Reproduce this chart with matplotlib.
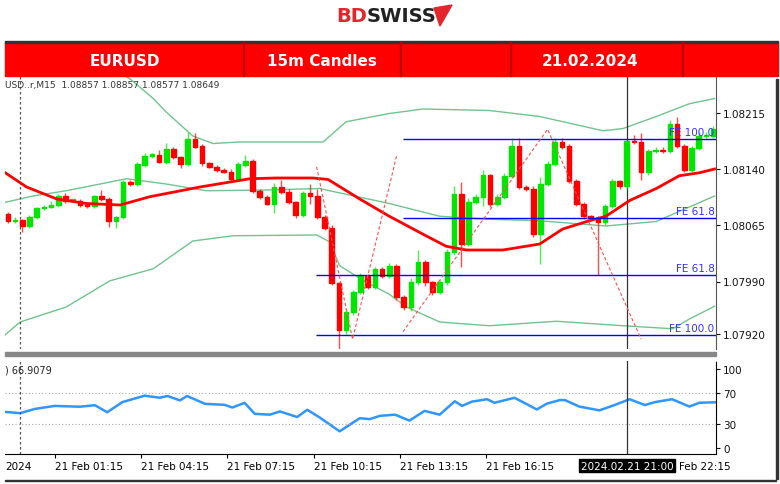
import matplotlib
matplotlib.use("Agg")
import matplotlib.pyplot as plt
from matplotlib.patches import Rectangle, Polygon

# ---------------- data ----------------
closes = [1.08071,1.08072,1.08064,1.08076,1.08088,1.08090,1.08092,1.08104,1.08098,1.08098,
          1.08092,1.08091,1.08104,1.08100,1.08071,1.08076,1.08123,1.08120,1.08146,1.08158,
          1.08159,1.08150,1.08167,1.08156,1.08147,1.08180,1.08170,1.08148,1.08143,1.08139,
          1.08136,1.08127,1.08146,1.08151,1.08111,1.08103,1.08094,1.08116,1.08110,1.08096,
          1.08079,1.08108,1.08104,1.08076,1.08062,1.07988,1.07925,1.07949,1.07976,1.07997,
          1.07983,1.08007,1.07997,1.08011,1.07969,1.07956,1.07989,1.08016,1.07989,1.07976,
          1.07989,1.08029,1.08107,1.08040,1.08096,1.08103,1.08132,1.08094,1.08103,1.08131,
          1.08171,1.08116,1.08114,1.08053,1.08120,1.08147,1.08176,1.08170,1.08124,1.08094,
          1.08077,1.08075,1.08069,1.08091,1.08124,1.08117,1.08178,1.08176,1.08136,1.08164,
          1.08166,1.08164,1.08200,1.08171,1.08139,1.08168,1.08184,1.08184,1.08194]
first_open = 1.08080
upper_wick = [3,4,2,3,2,2,6,3,4,2, 2,3,2,8,3,2,3,2,4,3, 3,6,8,3,2,10,8,3,2,3,
              2,4,3,8,2,3,2,6,9,3, 2,3,12,10,3,3,2,4,3,4, 3,3,3,4,2,3,5,16,3,2,
              3,4,10,16,5,4,7,2,4,4, 10,10,3,3,10,4,6,5,3,3, 2,2,3,3,3,2,2,7,12,3,
              3,4,6,10,2,3,6,5,3]
lower_wick = [3,3,8,3,2,3,2,3,3,2, 3,3,3,2,8,10,3,2,2,3, 3,2,3,3,6,3,2,4,2,3,
              2,3,3,3,3,3,2,12,3,3, 4,3,10,3,3,3,25,5,4,3, 3,3,3,3,3,4,6,4,5,4,
              3,3,3,30,3,3,12,4,3,3, 3,3,3,3,40,3,3,3,3,3, 3,3,70,3,3,3,3,3,10,4,
              3,3,3,3,3,3,3,3,3]

ma_x = [-1,2.6,6.8,10.9,15.6,19.7,26.7,33.6,37.3,42.4,44.5,48.9,53,57.7,60.9,63.7,68.8,73.9,77.1,80.8,83.1,86.4,90.1,93.3,96.1,98.2]
ma_y = [1.08139,1.08116,1.08100,1.08094,1.08092,1.08103,1.08116,1.08127,1.08128,1.08128,1.08126,1.08100,1.08077,
        1.08053,1.08037,1.08032,1.08032,1.08040,1.08060,1.08071,1.08077,1.08098,1.08114,1.08131,1.08135,1.08140]
bb_up_x = [-1,10,17,20.2,22,25.7,28.5,32.2,43.8,47,53,57.7,66.9,73.9,82.7,85.5,90.1,94.7,98.2]
bb_up_y = [1.08340,1.08300,1.08260,1.08234,1.08216,1.08184,1.08174,1.08176,1.08176,1.08203,1.08214,1.08220,
           1.08218,1.08210,1.08191,1.08194,1.08210,1.08227,1.08234]
bb_mid_x = [-1.1,3.5,8.1,16.5,22,27.6,35.9,43.3,45.2,53,60,66.9,73.9,83.1,90.1,98.2]
bb_mid_y = [1.08094,1.08104,1.08111,1.08127,1.08120,1.08111,1.08112,1.08114,1.08110,1.08094,1.08077,1.08073,
            1.08071,1.08064,1.08070,1.08104]
bb_lo_x = [-1.1,1.7,8.1,14.2,20.2,25.7,31.3,42.9,44.7,46.1,49.8,53,55.4,60,66.9,76.2,85.5,92.4,94.7,98.2]
bb_lo_y = [1.07913,1.07936,1.07956,1.07991,1.08007,1.08044,1.08051,1.08052,1.08043,1.08011,1.07989,1.07973,
           1.07956,1.07936,1.07931,1.07937,1.07931,1.07927,1.07940,1.07957]

fe_levels = [1.08180, 1.08075, 1.07999, 1.07919]
fe_start = [54.9, 54.9, 42.8, 42.8]
fe_labels = ["FE 100.0", "FE 61.8", "FE 61.8", "FE 100.0"]
zig1_x = [42.9, 47.9, 54.0]
zig1_y = [1.08143, 1.07913, 1.08157]
zig2_x = [54.9, 75.0, 88.0]
zig2_y = [1.07923, 1.08193, 1.07913]

rsi_x = [-1.1,1.7,3.8,6.5,10,12.1,13.8,15.9,19,21.1,22.2,23.9,24.9,27.4,30.1,31.2,32.9,34.3,36.4,37.8,
         40.2,41.6,43.3,46.1,48.9,50.3,51.7,53.8,55.8,57.9,60,62.1,63.1,64.5,66.6,67.6,70.4,71.8,73.5,74.9,
         76.7,77.4,79.4,82.2,84.3,86.4,88.5,89.9,92.3,94.7,96.1,98.9]
rsi_y = [46,43.8,49.3,53,52,53.9,45,57.8,66,63.4,65.6,60,65.6,55.6,54.4,51,56.9,43,41.9,46,
         38.9,48.1,38.5,20.8,37.4,36.3,40.4,41.9,34.4,46.7,41.9,58.9,53,58.5,61.5,57,63.3,56.7,48.5,55.9,
         60.4,60.4,52.2,47.4,54.1,61.5,54.1,57.8,61.5,52.2,57,57.8]

price_ticks = [1.08215, 1.08140, 1.08065, 1.07990, 1.07920]
rsi_ticks = [100, 70, 30, 0]
time_pos = [6.5, 18.5, 30.5, 42.5, 54.5, 66.5]
time_labels = ["21 Feb 01:15", "21 Feb 04:15", "21 Feb 07:15", "21 Feb 10:15", "21 Feb 13:15", "21 Feb 16:15"]

# ---------------- figure ----------------
W, H = 780, 485
fig = plt.figure(figsize=(7.8, 4.85), dpi=100)
fig.patch.set_facecolor("white")

def fx(px): return px / W
def fy(py): return 1 - py / H

# logo
fig.text(fx(367), fy(17), "BD", color="#e3262b", fontsize=14, fontweight="bold", ha="right", va="center")
fig.text(fx(367), fy(17), "SWISS", color="#222222", fontsize=14, fontweight="bold", ha="left", va="center")
fig.patches.append(Polygon([(fx(434), fy(9)), (fx(452), fy(6)), (fx(440), fy(27))], closed=True,
                           transform=fig.transFigure, color="#e3262b"))

# header bar
fig.patches.append(Rectangle((fx(5), fy(77)), fx(773), 34/H, transform=fig.transFigure, color="#ff0000"))
fig.patches.append(Rectangle((fx(5), fy(44)), fx(773), 2/H, transform=fig.transFigure, color="#333333"))
for sx in [243, 400, 510, 682]:
    fig.patches.append(Rectangle((fx(sx), fy(77)), 1/W, 34/H, transform=fig.transFigure, color="#c00000"))
for tx, t in [(125, "EURUSD"), (322, "15m Candles"), (590, "21.02.2024")]:
    fig.text(fx(tx), fy(61), t, color="white", fontsize=11, fontweight="bold", ha="center", va="center")

# main axes
ax = fig.add_axes([fx(5), fy(350), fx(711), 273/H])
ax.set_xlim(-0.4, 98.4)
ax.set_ylim(1.07900, 1.08264)
n = len(closes)
opens = [first_open] + closes[:-1]
for i in range(n):
    o, c = opens[i], closes[i]
    col = "#00e600" if c >= o else "#ff0000"
    hi = max(o, c) + upper_wick[i] * 1e-5
    lo = min(o, c) - lower_wick[i] * 1e-5
    ax.vlines(i, lo, hi, color=col, lw=1, alpha=0.7, zorder=3)
    h = max(abs(c - o), 0.000015)
    ax.add_patch(Rectangle((i - 0.32, min(o, c)), 0.64, h, color=col, zorder=4))
bb_col = "#70c48f"
ax.plot(bb_up_x, bb_up_y, color=bb_col, lw=1, zorder=2)
ax.plot(bb_mid_x, bb_mid_y, color=bb_col, lw=1, zorder=2)
ax.plot(bb_lo_x, bb_lo_y, color=bb_col, lw=1, zorder=2)
ax.plot(ma_x, ma_y, color="#ff0000", lw=2, zorder=5)
for lv, st, lb in zip(fe_levels, fe_start, fe_labels):
    ax.hlines(lv, st, 98.4, color="#0000ff", lw=1, zorder=6)
    ax.text(98.2, lv + 0.00002, lb, color="#3333ff", fontsize=7.5, ha="right", va="bottom", zorder=7)
ax.plot(zig1_x, zig1_y, color="#ff5050", lw=0.8, ls=(0, (3, 2)), zorder=6)
ax.plot(zig2_x, zig2_y, color="#ff5050", lw=0.8, ls=(0, (3, 2)), zorder=6)
ax.axvline(1.7, color="#555555", lw=0.9, ls=(0, (2, 2)))
ax.axvline(86.1, color="#333333", lw=0.9)
ax.set_yticks(price_ticks)
ax.yaxis.tick_right()
ax.set_yticklabels([f"{p:.5f}" for p in price_ticks], fontsize=7.5)
ax.tick_params(axis="y", length=3, pad=2, colors="#111111")
ax.set_xticks([])
for s in ["top", "left", "bottom"]:
    ax.spines[s].set_visible(False)
ax.spines["right"].set_linestyle((0, (1, 1)))
ax.spines["right"].set_color("#555555")
ax.text(0.0, 0.985, "USD..r,M15  1.08857 1.08857 1.08577 1.08649", transform=ax.transAxes,
        fontsize=6.5, color="#333333", va="top", ha="left")

# separator
fig.patches.append(Rectangle((fx(5), fy(357)), fx(711), 4/H, transform=fig.transFigure, color="#888888"))

# RSI axes
ax2 = fig.add_axes([fx(5), fy(455), fx(711), 93/H])
ax2.set_xlim(-0.4, 98.4)
ax2.set_ylim(-8, 110)
ax2.plot(rsi_x, rsi_y, color="#2e96ff", lw=1.8)
for lv in [70, 30]:
    ax2.axhline(lv, color="#aaaaaa", lw=0.8, ls=(0, (1, 2)))
ax2.axvline(1.7, color="#555555", lw=0.9, ls=(0, (2, 2)))
ax2.axvline(86.1, color="#333333", lw=0.9)
ax2.set_yticks(rsi_ticks)
ax2.yaxis.tick_right()
ax2.set_yticklabels([str(t) for t in rsi_ticks], fontsize=7.5)
ax2.tick_params(axis="y", length=3, pad=2, colors="#111111")
ax2.set_xticks(time_pos)
ax2.set_xticklabels([])
ax2.tick_params(axis="x", length=3)
for s in ["top", "left"]:
    ax2.spines[s].set_visible(False)
ax2.spines["right"].set_linestyle((0, (1, 1)))
ax2.text(0.0, 0.96, ") 66.9079", transform=ax2.transAxes, fontsize=7, color="#222222", va="top")

# time labels
xt = ax2.get_xaxis_transform()
for p, t in zip(time_pos, time_labels):
    ax2.text(p, -0.07, t, transform=xt, fontsize=7.5, va="top", ha="left")
ax2.text(-0.3, -0.07, "2024", transform=xt, fontsize=7.5, va="top", ha="left")
ax2.text(93.2, -0.07, "Feb 22:15", transform=xt, fontsize=7.5, va="top", ha="left")
ax2.text(79.6, -0.07, "2024.02.21 21:00", transform=xt, fontsize=7.5, va="top",
         ha="left", color="white", bbox=dict(facecolor="black", edgecolor="black", pad=1))

# frame lines
fig.patches.append(Rectangle((fx(776), fy(480)), 1.5/W, 400/H, transform=fig.transFigure, color="#333333"))
fig.patches.append(Rectangle((fx(5), fy(482)), fx(771), 1.5/H, transform=fig.transFigure, color="#333333"))

fig.savefig("out.png", dpi=100)
